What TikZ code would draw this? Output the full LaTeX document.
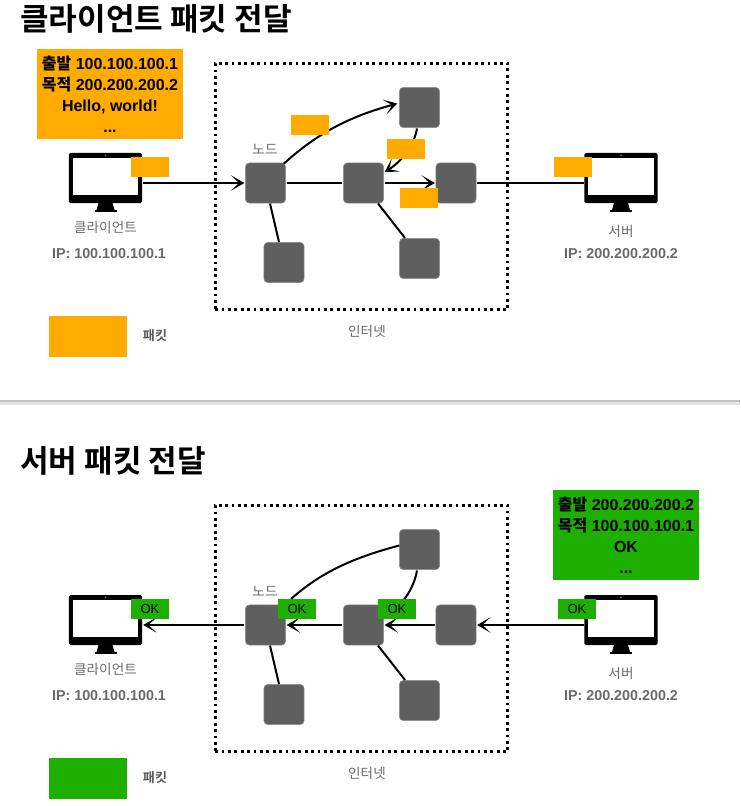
\documentclass[tikz,border=0pt]{standalone}
\usepackage{fontspec}
\setmainfont{Liberation Sans}
\newfontfamily\krfont{Noto Sans CJK KR}
\newfontfamily\krbold{Noto Sans CJK KR Bold}
\usetikzlibrary{arrows.meta}
\definecolor{pktorange}{HTML}{FFAB00}
\definecolor{pktgreen}{HTML}{1EB000}
\definecolor{nodegray}{HTML}{5F5F5F}
\definecolor{labelgray}{HTML}{6A6A6A}
\tikzset{
  netnode/.style={draw=nodegray!70,line width=0.4pt,fill=nodegray,rounded corners=3.2pt,minimum width=30.3pt,minimum height=30.3pt,inner sep=0pt,outer sep=0pt},
  pkt/.style={minimum width=28.5pt,minimum height=15pt,inner sep=0pt,outer sep=0pt,font=\fontsize{9.8}{11}\selectfont},
  orangepkt/.style={pkt,fill=pktorange},
  greenpkt/.style={pkt,fill=pktgreen},
  infobox/.style={minimum width=109.5pt,minimum height=67.5pt,inner sep=0pt,align=center,font=\fontsize{12}{15.8}\bfseries\selectfont},
  legendbox/.style={minimum width=58.5pt,minimum height=30.7pt,inner sep=0pt},
  wire/.style={line width=1.5pt,black},
  arrowwire/.style={wire,-{Stealth[length=10pt,width=11.5pt,inset=6pt,line width=1pt]}},
  netframe/.style={draw=black,line width=2.2pt,dash pattern=on 2.1pt off 2.7pt,minimum width=219.5pt,minimum height=185pt,inner sep=0pt},
  title/.style={font=\krbold\fontsize{23.3}{26}\selectfont,anchor=west,inner sep=0pt},
  graylabel/.style={text=labelgray,font=\krfont\fontsize{10.2}{12}\selectfont,inner sep=0pt},
  iplabel/.style={text=labelgray,font=\fontsize{10.75}{13}\bfseries\selectfont,inner sep=0pt},
  blacklabel/.style={text=black!65,font=\krbold\fontsize{9.8}{11}\selectfont,inner sep=0pt},
  screen/.style={fill=white,inner sep=0pt,minimum width=48.8pt,minimum height=27.8pt},
  bezel/.style={fill=black,rounded corners=1pt,inner sep=0pt,minimum width=54.8pt,minimum height=37.5pt},
}
\newcommand{\kor}[1]{{\krbold #1}}
\newcommand{\monitor}[3]{% name, x, y(top)
  \node[bezel] (#1) at (#2,#3+25) {};
  \node[screen] (#1s) at (#2,#3+23.5) {};
  \fill[black!55] (#2,#3+2.4) circle (0.7pt);
  \fill[black] (#2-7,#3+50) -- (#2+7,#3+50) -- (#2+9,#3+57) -- (#2-9,#3+57) -- cycle;
  \fill[black] (#2-11,#3+57) rectangle (#2+11,#3+59);
}
\begin{document}
\begin{tikzpicture}[x=0.75pt,y=-0.75pt]
\useasboundingbox (0,0) rectangle (740,806);
% divider
\fill[black!10] (0,400) rectangle (740,405);
\fill[black!24] (0,400) rectangle (740,401.6);
% ---------- top ----------
\node[title] at (20,19) {클라이언트 패킷 전달};
\node[infobox,fill=pktorange] (info1) at (110,94) {\kor{출발} 100.100.100.1\\\kor{목적} 200.200.200.2\\Hello, world!\\...};
\monitor{cli1}{105.5}{153}
\monitor{srv1}{621}{153}
\node[netframe] (net1) at (361.5,186.5) {};
\node[netnode] (a1) at (265.5,183) {};
\node[netnode] (a2) at (419.5,107.5) {};
\node[netnode] (a3) at (363.5,183) {};
\node[netnode] (a4) at (456,183) {};
\node[netnode] (a5) at (284,262.5) {};
\node[netnode] (a6) at (419.5,258.5) {};
\draw[arrowwire] ([xshift=0.7pt]cli1.east |- a1) -- ([xshift=-0.7pt]a1.west);
\draw[wire] ([xshift=0.7pt]a1.east) -- ([xshift=-0.7pt]a3.west);
\draw[arrowwire] ([xshift=0.7pt]a3.east) -- ([xshift=-0.7pt]a4.west);
\draw[wire] ([xshift=0.7pt]a4.east) -- (srv1.west |- a4);
\draw[arrowwire] ([xshift=-1.5pt,yshift=-0.7pt]a1.north east) .. controls (320,131) and (352,116) .. ([xshift=-1.5pt,yshift=3pt]a2.west);
\draw[arrowwire] (417,128.5) .. controls (414,146) and (402,161) .. ([xshift=0.7pt,yshift=-7pt]a3.north east);
\draw[wire] (270,203.5) -- (279,242);
\draw[wire] (378,203.5) -- (405,238);
\node[orangepkt] (p1) at (150,167) {};
\node[orangepkt] (p2) at (310,125) {};
\node[orangepkt] (p3) at (406,149) {};
\node[orangepkt] (p4) at (419,198) {};
\node[orangepkt] (p5) at (573,167) {};
\node[graylabel] (n1) at (265,149.5) {노드};
\node[graylabel] (cl1) at (105.5,227) {클라이언트};
\node[graylabel] (sl1) at (621,231) {서버};
\node[iplabel] (ip1) at (109,254) {IP: 100.100.100.1};
\node[iplabel] (ip2) at (621,254) {IP: 200.200.200.2};
\node[graylabel] (il1) at (367,331) {인터넷};
\node[legendbox,fill=pktorange] (lg1) at (88,336.5) {};
\node[blacklabel] (ll1) at (155,335.5) {패킷};
% ---------- bottom ----------
\node[title] at (20,461) {서버 패킷 전달};
\node[infobox,fill=pktgreen] (info2) at (626,535) {\kor{출발} 200.200.200.2\\\kor{목적} 100.100.100.1\\OK\\...};
\monitor{cli2}{105.5}{595}
\monitor{srv2}{621}{595}
\node[netframe] (net2) at (361.5,628.5) {};
\node[netnode] (b1) at (265.5,625) {};
\node[netnode] (b2) at (419.5,549.5) {};
\node[netnode] (b3) at (363.5,625) {};
\node[netnode] (b4) at (456,625) {};
\node[netnode] (b5) at (284,704.5) {};
\node[netnode] (b6) at (419.5,700.5) {};
\draw[arrowwire] (srv2.west |- b4) -- ([xshift=0.7pt]b4.east);
\draw[arrowwire] ([xshift=-0.7pt]b4.west) -- ([xshift=0.7pt]b3.east);
\draw[arrowwire] ([xshift=-0.7pt]b3.west) -- ([xshift=0.7pt]b1.east);
\draw[arrowwire] ([xshift=-0.7pt]b1.west) -- ([xshift=0.7pt]cli2.east |- b1);
\draw[wire] ([yshift=3pt]b2.west) .. controls (352,558) and (320,573) .. (291,599);
\draw[wire] (417,570.5) .. controls (415,582) and (410,592) .. (403,601);
\draw[wire] (270,645.5) -- (279,684);
\draw[wire] (378,645.5) -- (405,680);
\node[greenpkt] (q1) at (150,609) {OK};
\node[greenpkt] (q2) at (297,609) {OK};
\node[greenpkt] (q3) at (397,609) {OK};
\node[greenpkt] (q4) at (577,609) {OK};
\node[graylabel] (n2) at (265,591.5) {노드};
\node[graylabel] (cl2) at (105.5,669) {클라이언트};
\node[graylabel] (sl2) at (621,673) {서버};
\node[iplabel] (ip3) at (109,696) {IP: 100.100.100.1};
\node[iplabel] (ip4) at (621,696) {IP: 200.200.200.2};
\node[graylabel] (il2) at (367,773) {인터넷};
\node[legendbox,fill=pktgreen] (lg2) at (88,778.5) {};
\node[blacklabel] (ll2) at (155,777.5) {패킷};
\end{tikzpicture}
\end{document}
